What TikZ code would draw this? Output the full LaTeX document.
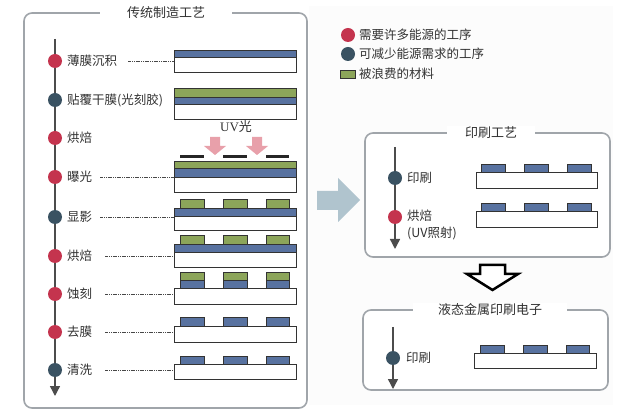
\documentclass[tikz,border=0pt]{standalone}
\usepackage{fontspec}
\setmainfont{Noto Sans CJK SC}
\newfontfamily\latinserif{Liberation Serif}
\usetikzlibrary{arrows.meta}
\definecolor{dotred}{RGB}{196,52,78}
\definecolor{dotblue}{RGB}{58,82,98}
\definecolor{layblue}{RGB}{88,114,160}
\definecolor{laygreen}{RGB}{140,165,90}
\definecolor{boxgray}{RGB}{160,165,170}
\definecolor{txt}{RGB}{50,50,50}
\definecolor{pinkarr}{RGB}{232,160,170}
\definecolor{bigarr}{RGB}{176,196,206}
\definecolor{offwhite}{RGB}{252,252,252}
\tikzset{
  reddot/.style={circle,fill=dotred,minimum size=14pt,inner sep=0pt},
  bluedot/.style={circle,fill=dotblue,minimum size=14pt,inner sep=0pt},
  lbl/.style={anchor=west,inner sep=1pt,font=\fontsize{12.5}{14}\selectfont,text=txt},
  ttl/.style={fill=white,inner sep=0pt,font=\fontsize{13}{15}\selectfont,text=txt,minimum height=14pt},
  frame/.style={draw=boxgray,line width=1.6pt,rounded corners=8pt},
  flow/.style={draw=black!70,line width=1.4pt,-{Triangle[width=10pt,length=10pt]}},
  sub/.style={draw=black!80,line width=0.8pt,fill=white},
  bl/.style={draw=black!80,line width=0.8pt,fill=layblue},
  gr/.style={draw=black!80,line width=0.8pt,fill=laygreen},
  mask/.style={fill=black!85},
  lead/.style={draw=black!72,line width=0.7pt,dash pattern=on 1.2pt off 0.6pt},
}
\begin{document}
\begin{tikzpicture}[x=1pt,y=-1pt]
\useasboundingbox (0,0) rectangle (634,419);
\fill[white] (0,0) rectangle (634,419);
\fill[offwhite] (309,6) rectangle (613,405);

% ---------- left frame ----------
\draw[frame,fill=white] (24,13) rectangle (307,408);
\node[ttl,minimum width=132pt] (t1) at (166,13) {传统制造工艺};

\coordinate (ltop) at (55,39);
\coordinate (lbot) at (55,396);
\draw[flow] (ltop) -- (lbot);

\node[reddot]  (d1) at (55,61)  {};
\node[bluedot] (d2) at (55,100) {};
\node[reddot]  (d3) at (55,138) {};
\node[reddot]  (d4) at (55,177) {};
\node[bluedot] (d5) at (55,217) {};
\node[reddot]  (d6) at (55,256) {};
\node[reddot]  (d7) at (55,294) {};
\node[reddot]  (d8) at (55,332) {};
\node[bluedot] (d9) at (55,370) {};

\node[lbl] (l1) at (66,61)  {薄膜沉积};
\node[lbl] (l2) at (66,100) {贴覆干膜(光刻胶)};
\node[lbl] (l3) at (66,138) {烘焙};
\node[lbl] (l4) at (66,177) {曝光};
\node[lbl] (l5) at (66,217) {显影};
\node[lbl] (l6) at (66,256) {烘焙};
\node[lbl] (l7) at (66,294) {蚀刻};
\node[lbl] (l8) at (66,332) {去膜};
\node[lbl] (l9) at (66,370) {清洗};

\foreach \n/\y/\g in {1/61/10, 4/177/7, 5/217/7, 6/256/12, 7/294/12, 8/332/12, 9/370/12}{
  \coordinate (s\n) at (174,\y);
  \draw[lead] ([xshift=\g pt]l\n.east) -- (s\n);
}

% stack 1
\draw[sub] (174,57) rectangle (296,72);
\draw[bl]  (174,50) rectangle (296,57);
% stack 2
\draw[sub] (174,104) rectangle (296,119);
\draw[bl]  (174,97) rectangle (296,104);
\draw[gr]  (174,88) rectangle (296,97);
% UV
\node[font=\fontsize{13}{15}\selectfont,text=txt] (uv) at (236,127) {{\latinserif UV}光};
\foreach \cx in {215,257}{
  \fill[pinkarr] (\cx-5,137) -- (\cx+5,137) -- (\cx+5,146) -- (\cx+11,146) -- (\cx,155) -- (\cx-11,146) -- (\cx-5,146) -- cycle;
}
% stack 3 (exposure)
\draw[sub] (174,177) rectangle (296,192);
\draw[bl]  (174,168) rectangle (296,177);
\draw[gr]  (174,161) rectangle (296,168);
\foreach \a/\b in {180/204,223/247,266/289}{
  \fill[mask] (\a,155) rectangle (\b,158.5);
}
% stack 4
\draw[sub] (174,216) rectangle (296,230);
\draw[bl]  (174,208) rectangle (296,216);
\foreach \a/\b in {180/204,223/247,266/289}{
  \draw[gr] (\a,199) rectangle (\b,208);
}
% stack 5
\draw[sub] (174,252) rectangle (296,267);
\draw[bl]  (174,244) rectangle (296,252);
\foreach \a/\b in {180/204,223/247,266/289}{
  \draw[gr] (\a,235) rectangle (\b,244);
}
% stack 6
\draw[sub] (174,288) rectangle (296,304);
\foreach \a/\b in {180/204,223/247,266/289}{
  \draw[bl] (\a,280) rectangle (\b,288);
  \draw[gr] (\a,272) rectangle (\b,280);
}
% stack 7
\draw[sub] (174,326) rectangle (296,342);
\foreach \a/\b in {180/204,223/247,266/289}{
  \draw[bl] (\a,317) rectangle (\b,326);
}
% stack 8
\draw[sub] (174,364) rectangle (296,379);
\foreach \a/\b in {180/204,223/247,266/289}{
  \draw[bl] (\a,356) rectangle (\b,364);
}

% ---------- legend ----------
\node[reddot]  (k1) at (348,35) {};
\node[bluedot] (k2) at (348,54) {};
\draw[gr,line width=1pt] (340,70.5) rectangle (355,78.5);
\coordinate (k3) at (355,74);
\node[lbl] (kt1) at (358,35) {需要许多能源的工序};
\node[lbl] (kt2) at (358,54) {可减少能源需求的工序};
\node[lbl] (kt3) at (358,74) {被浪费的材料};

% ---------- big arrow ----------
\fill[bigarr] (317,191) -- (338,191) -- (338,178) -- (360,200) -- (338,222) -- (338,210) -- (317,210) -- cycle;

% ---------- printing frame ----------
\draw[frame,fill=white] (365,133) rectangle (610,257);
\node[ttl,minimum width=88pt] (t2) at (491,133) {印刷工艺};
\coordinate (ptop) at (395,147);
\coordinate (pbot) at (395,249);
\draw[flow] (ptop) -- (pbot);
\node[bluedot] (p1) at (395,178) {};
\node[reddot]  (p2) at (395,217) {};
\node[lbl] (pl1) at (406,178) {印刷};
\node[lbl] (pl2) at (406,216) {烘焙};
\node[lbl] (pl3) at (406,233) {(UV照射)};
\draw[sub] (476,172) rectangle (597,188);
\draw[sub] (476,211) rectangle (597,227);
\foreach \a/\b in {481/505,524/548,567/591}{
  \draw[bl] (\a,164) rectangle (\b,172);
  \draw[bl] (\a,203) rectangle (\b,211);
}

% ---------- down arrow ----------
\draw[black,line width=2.5pt,line join=miter,fill=white] (480,265) -- (505,265) -- (505,274) -- (518,274) -- (492.5,290) -- (467,274) -- (480,274) -- cycle;

% ---------- liquid metal frame ----------
\draw[frame,fill=white] (363,310) rectangle (608,390);
\node[ttl,minimum width=154pt] (t3) at (490,310) {液态金属印刷电子};
\coordinate (qtop) at (393,327);
\coordinate (qbot) at (393,389);
\draw[flow] (qtop) -- (qbot);
\node[bluedot] (q1) at (393,358) {};
\node[lbl] (ql1) at (405,358) {印刷};
\draw[sub] (474,353) rectangle (596,368);
\foreach \a/\b in {480/504,523/547,566/589}{
  \draw[bl] (\a,345) rectangle (\b,353);
}
\end{tikzpicture}
\end{document}
